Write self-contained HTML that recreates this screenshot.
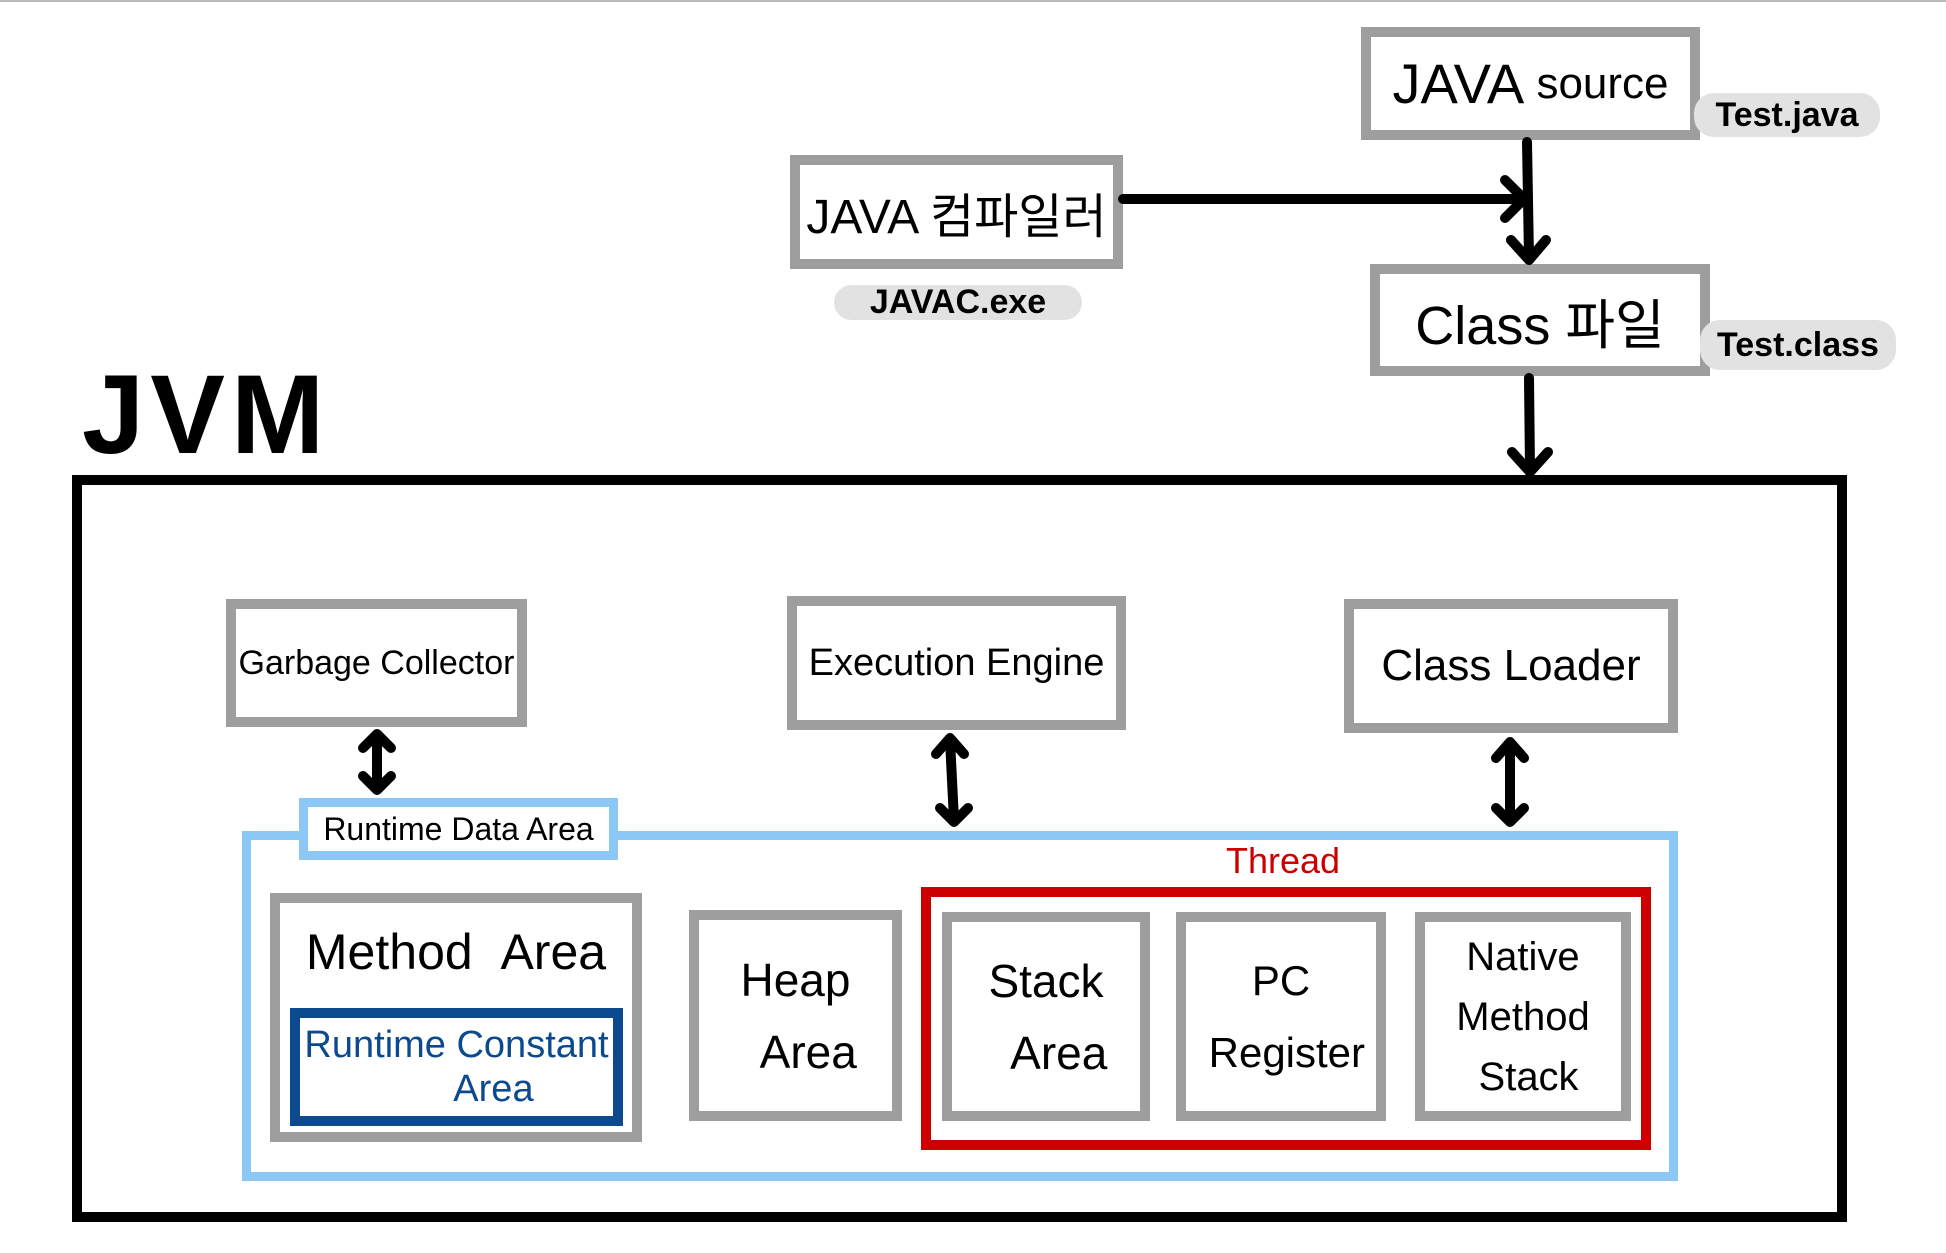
<!DOCTYPE html>
<html><head><meta charset="utf-8"><style>
body{margin:0;width:1946px;height:1253px;background:#fff;position:relative;overflow:hidden;font-family:"Liberation Sans","Noto Sans CJK KR",sans-serif;}
.b{position:absolute;box-sizing:border-box;border:10px solid #9e9e9e;background:#fff;display:flex;align-items:center;justify-content:center;text-align:center;color:#000;white-space:nowrap;}
.p{position:absolute;background:#e2e2e2;border-radius:20px;font-size:34px;display:flex;align-items:center;justify-content:center;font-weight:bold;}
.t{position:absolute;}
</style></head><body>
<div style="position:absolute;left:0;top:0;width:1946px;height:2px;background:#bbb"></div>
<div class="b" style="left:1361px;top:27px;width:339px;height:113px;font-size:56px">JAVA <span style="font-size:44px">&nbsp;source</span></div>
<div class="p" style="left:1694px;top:93px;width:186px;height:44px">Test.java</div>
<div class="b" style="left:790px;top:155px;width:333px;height:114px;font-size:48px">JAVA 컴파일러</div>
<div class="p" style="left:834px;top:285px;width:248px;height:35px">JAVAC.exe</div>
<div class="b" style="left:1370px;top:264px;width:340px;height:112px;font-size:54px">Class 파일</div>
<div class="p" style="left:1700px;top:320px;width:196px;height:50px">Test.class</div>
<svg style="position:absolute;left:0;top:0" width="1946" height="1253">
<g stroke="#000" stroke-width="10" fill="none" stroke-linecap="round" stroke-linejoin="round">
<line x1="1123" y1="199" x2="1522" y2="199"/><polyline points="1505,180 1524,199 1505,218"/>
<line x1="1527" y1="142" x2="1529" y2="258"/><polyline points="1511,240 1529,260 1546,240"/>
<line x1="1529" y1="378" x2="1530" y2="470"/><polyline points="1512,452 1530,472 1548,452"/>
<line x1="377" y1="735" x2="377" y2="788"/><polyline points="363,748 377,734 391,748"/><polyline points="363,776 377,790 391,776"/>
<line x1="950" y1="740" x2="954" y2="820"/><polyline points="936,754 950,738 964,754"/><polyline points="940,808 954,822 968,808"/>
<line x1="1510" y1="744" x2="1510" y2="820"/><polyline points="1496,758 1510,742 1524,758"/><polyline points="1496,808 1510,822 1524,808"/>
</g></svg>
<div class="t" style="left:82px;top:350px;font-size:112px;font-weight:bold;letter-spacing:6px">JVM</div>
<div style="position:absolute;left:72px;top:475px;width:1775px;height:747px;box-sizing:border-box;border:10px solid #000"></div>
<div class="b" style="left:226px;top:599px;width:301px;height:128px;font-size:34px">Garbage Collector</div>
<div class="b" style="left:787px;top:596px;width:339px;height:134px;font-size:38px">Execution Engine</div>
<div class="b" style="left:1344px;top:599px;width:334px;height:134px;font-size:44px">Class Loader</div>
<div style="position:absolute;left:242px;top:831px;width:1436px;height:350px;box-sizing:border-box;border:9px solid #8cc8f5"></div>
<div class="b" style="left:299px;top:798px;width:319px;height:62px;border:9px solid #8cc8f5;font-size:32px">Runtime Data Area</div>
<div class="t" style="left:1226px;top:840px;font-size:36px;color:#cc0000">Thread</div>
<div class="b" style="left:270px;top:893px;width:372px;height:249px;align-items:flex-start;font-size:50px;padding-top:20px">Method &nbsp;Area</div>
<div class="b" style="left:290px;top:1008px;width:333px;height:118px;border:10px solid #0b4a8f;color:#0b4a8f;font-size:38px;line-height:44px">Runtime Constant<br>&nbsp;&nbsp;&nbsp;&nbsp;&nbsp;&nbsp;&nbsp;Area</div>
<div class="b" style="left:689px;top:910px;width:213px;height:211px;font-size:46px;line-height:72px">Heap<br>&nbsp;&nbsp;Area</div>
<div style="position:absolute;left:921px;top:887px;width:730px;height:263px;box-sizing:border-box;border:10px solid #cc0000"></div>
<div class="b" style="left:942px;top:912px;width:208px;height:209px;font-size:46px;line-height:72px">Stack<br>&nbsp;&nbsp;Area</div>
<div class="b" style="left:1176px;top:912px;width:210px;height:209px;font-size:42px;line-height:72px">PC<br>&nbsp;Register</div>
<div class="b" style="left:1415px;top:912px;width:216px;height:209px;font-size:40px;line-height:60px">Native<br>Method<br>&nbsp;Stack</div>
</body></html>
